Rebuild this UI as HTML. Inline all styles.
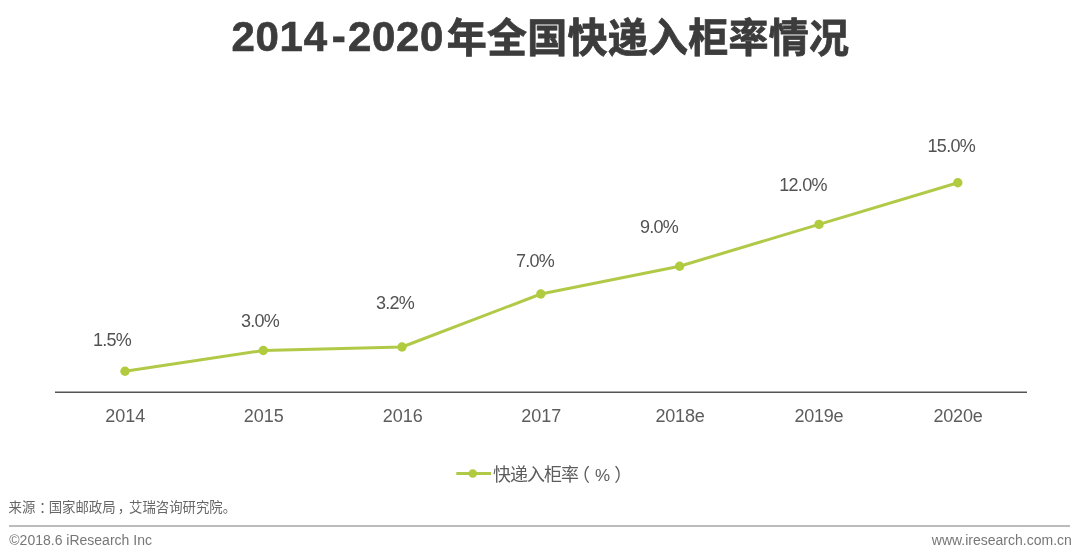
<!DOCTYPE html>
<html lang="zh-CN">
<head>
<meta charset="utf-8">
<title>2014-2020年全国快递入柜率情况</title>
<style>
html,body{margin:0;padding:0;background:#fff;}
body{width:1080px;height:556px;position:relative;overflow:hidden;font-family:"Liberation Sans","Noto Sans CJK SC",sans-serif;color:#555;}
.abs{position:absolute;white-space:nowrap;}
#title{left:231.5px;top:9.5px;font-size:40px;line-height:56px;font-weight:bold;color:#3c3c3c;letter-spacing:0.25px;-webkit-text-stroke:0.8px #3c3c3c;}
#title .lat{font-size:42px;letter-spacing:0.7px;-webkit-text-stroke:0.7px #3c3c3c;position:relative;top:-0.5px;margin-right:2.6px;}
#title .hy{display:inline-block;margin:0 1.5px 0 4px;}
.lbl{font-size:18px;letter-spacing:-0.7px;line-height:20px;color:#525252;transform:translateX(-50%);}
.yr{font-size:18px;line-height:20px;color:#5c5c5c;transform:translateX(-50%);top:406px;}
.yr.e{letter-spacing:-0.25px;}
#legend{font-size:18px;line-height:20px;color:#5c5c5c;left:493px;top:464.5px;letter-spacing:-1px;}
#legend span{position:relative;letter-spacing:0;}
#src{font-size:13.4px;line-height:16px;color:#666;left:8.5px;top:500px;}
#src span{position:relative;}
#copy{font-size:14px;line-height:16px;color:#777;left:9.3px;top:532px;}
#www{font-size:14px;line-height:16px;color:#777;right:8.2px;top:532px;}
#rule{left:8.7px;width:1061.6px;top:525.4px;height:1.3px;background:#bcbcbc;}
svg{position:absolute;left:0;top:0;}
</style>
</head>
<body>
<div id="title" class="abs"><span class="lat">2014<span class="hy">-</span>2020</span>年全国快递入柜率情况</div>
<svg width="1080" height="556" viewBox="0 0 1080 556">
  <line x1="55" y1="392.2" x2="1027" y2="392.2" stroke="#555" stroke-width="1.6"/>
  <polyline fill="none" stroke="#b0ca48" stroke-width="3" stroke-linejoin="round" points="125,371.2 263.3,350.5 402,347 540.8,294 679.6,266.2 819,224.4 957.8,182.7"/>
  <g fill="#b0cc3e">
    <circle cx="125" cy="371.2" r="4.7"/><circle cx="263.3" cy="350.5" r="4.7"/><circle cx="402" cy="347" r="4.7"/>
    <circle cx="540.8" cy="294" r="4.7"/><circle cx="679.6" cy="266.2" r="4.7"/><circle cx="819" cy="224.4" r="4.7"/><circle cx="957.8" cy="182.7" r="4.7"/>
  </g>
  <line x1="456.3" y1="473.5" x2="491" y2="473.5" stroke="#b0ca48" stroke-width="3"/>
  <circle cx="472.8" cy="473.5" r="4.3" fill="#b0cc3e"/>
</svg>
<div class="abs lbl" style="left:112px;top:330px">1.5%</div>
<div class="abs lbl" style="left:260px;top:311px">3.0%</div>
<div class="abs lbl" style="left:395px;top:293px">3.2%</div>
<div class="abs lbl" style="left:535px;top:251px">7.0%</div>
<div class="abs lbl" style="left:659px;top:217px">9.0%</div>
<div class="abs lbl" style="left:803px;top:175px">12.0%</div>
<div class="abs lbl" style="left:951.3px;top:136px">15.0%</div>
<div class="abs yr" style="left:125.2px">2014</div>
<div class="abs yr" style="left:263.8px">2015</div>
<div class="abs yr" style="left:402.8px">2016</div>
<div class="abs yr" style="left:541.2px">2017</div>
<div class="abs yr e" style="left:680px">2018e</div>
<div class="abs yr e" style="left:818.8px">2019e</div>
<div class="abs yr e" style="left:958px">2020e</div>
<div id="legend" class="abs">快递入柜率<span style="left:-6px">（</span><span style="font-size:17px;left:-1px">%</span><span style="left:3px">）</span></div>
<div id="src" class="abs">来源<span style="left:4px">：</span>国家邮政局<span style="left:2px">，</span>艾瑞咨询研究院。</div>
<div id="rule" class="abs"></div>
<div id="copy" class="abs">©2018.6 iResearch Inc</div>
<div id="www" class="abs">www.iresearch.com.cn</div>
</body>
</html>
